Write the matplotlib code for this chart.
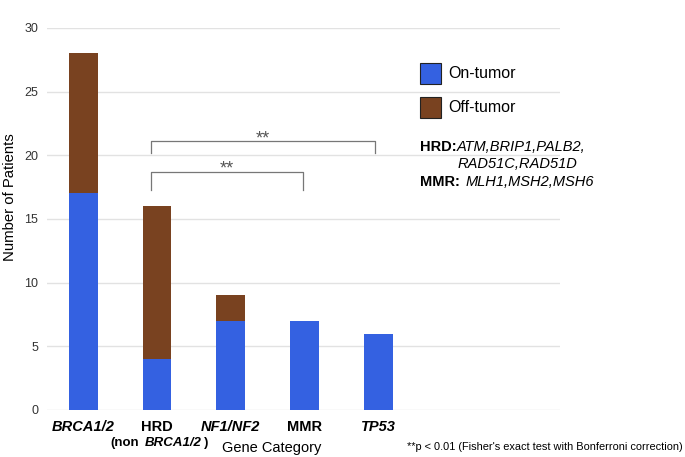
"""Stacked bar chart: on-tumor vs off-tumor patients by gene category"""

import matplotlib

matplotlib.use("Agg")
from matplotlib import pyplot as plt
from matplotlib.patches import Rectangle

categories = ["BRCA1/2", "HRD", "NF1/NF2", "MMR", "TP53"]
on_tumor = [17, 4, 7, 7, 6]
off_tumor = [11, 12, 2, 0, 0]
y_ticks = [0, 5, 10, 15, 20, 25, 30]

BLUE = "#3461e1"
BROWN = "#794220"

plt.rcParams["font.family"] = ["Liberation Sans", "DejaVu Sans"]

fig = plt.figure(figsize=(6.85, 4.57), dpi=100)
ax = fig.add_axes([0.069, 0.103, 0.749, 0.836])

x = list(range(len(categories)))
ax.bar(x, on_tumor, width=0.39, color=BLUE, zorder=3)
ax.bar(x, off_tumor, width=0.39, bottom=on_tumor, color=BROWN, zorder=3)

ax.set_xlim(-0.49, 6.47)
ax.set_ylim(0, 30)
ax.set_yticks(y_ticks)
ax.yaxis.grid(True, color="#e2e2e2", linewidth=1, zorder=0)
ax.tick_params(axis="y", length=0, labelsize=9, labelcolor="#333333", pad=6.5)
ax.set_xticks([])
for side in ["top", "right", "left", "bottom"]:
    ax.spines[side].set_visible(False)
fig.text(0.014, 0.569, "Number of Patients", rotation=90, ha="center",
         va="center", fontsize=10.7)

# category labels below the axis
trans = ax.get_xaxis_transform()
styles = ["italic", "normal", "italic", "normal", "italic"]
for xi, name, st in zip(x, categories, styles):
    ax.text(xi, -0.045, name, transform=trans, ha="center", va="center",
            fontsize=10.5, fontweight="bold", style=st)
ax.text(0.76, -0.087, "(non", transform=trans, ha="right", va="center",
        fontsize=9.5, fontweight="bold")
ax.text(0.83, -0.087, "BRCA1/2", transform=trans, ha="left", va="center",
        fontsize=9.5, fontweight="bold", style="italic")
ax.text(1.63, -0.087, ")", transform=trans, ha="left", va="center",
        fontsize=9.5, fontweight="bold")
ax.text(2.56, -0.1, "Gene Category", transform=trans, ha="center",
        va="center", fontsize=10.5)
fig.text(0.997, 0.022, "**p < 0.01 (Fisher's exact test with Bonferroni correction)",
         ha="right", va="center", fontsize=7.9)

# significance brackets
for x0, x1, y_top, y_bot in [(0.92, 3.95, 21.1, 20.2), (0.92, 2.98, 18.7, 17.3)]:
    ax.plot([x0, x0, x1, x1], [y_bot, y_top, y_top, y_bot], color="#777777",
            linewidth=0.9, zorder=4)
    ax.text((x0 + x1) / 2, y_top + 0.2, "**", ha="center", va="center",
            fontsize=13, color="#555555")

# legend
for yy, col, lab in [(0.816, BLUE, "On-tumor"), (0.742, BROWN, "Off-tumor")]:
    fig.add_artist(Rectangle((0.613, yy), 0.031, 0.046, transform=fig.transFigure,
                             facecolor=col, edgecolor="#222222", linewidth=0.8))
    fig.text(0.654, yy + 0.023, lab, ha="left", va="center", fontsize=11.5)

# gene group annotation
fig.text(0.613, 0.679, "HRD:", ha="left", va="center", fontsize=10.5, fontweight="bold")
fig.text(0.667, 0.679, "ATM,BRIP1,PALB2,", ha="left", va="center",
         fontsize=10.5, style="italic")
fig.text(0.668, 0.641, "RAD51C,RAD51D", ha="left", va="center",
         fontsize=10.5, style="italic")
fig.text(0.613, 0.602, "MMR:", ha="left", va="center", fontsize=10.5, fontweight="bold")
fig.text(0.679, 0.602, "MLH1,MSH2,MSH6", ha="left", va="center",
         fontsize=10.5, style="italic")

fig.savefig("out.png", dpi=100)
